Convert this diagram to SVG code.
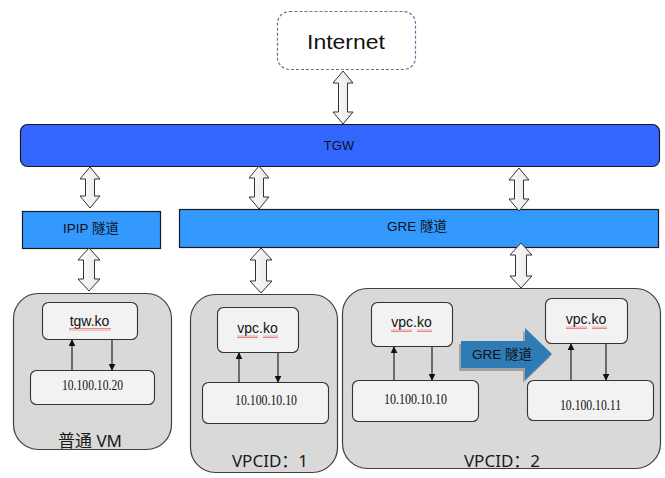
<svg xmlns="http://www.w3.org/2000/svg" width="665" height="478" viewBox="0 0 665 478">
<defs>
<style>
.cont{fill:#D9D9D9;stroke:#3F3F3F;stroke-width:1.2}
.inner{fill:#F2F2F2;stroke:#333;stroke-width:1.1}
.blue{fill:#3399FF;stroke:#1A1A1A;stroke-width:1.2}
.dbl{fill:url(#dg);stroke:#333;stroke-width:1}
.ln{stroke:#111;stroke-width:1.1;fill:none;marker-end:url(#ah)}
.sans{font-family:"Liberation Sans","Noto Sans CJK SC",sans-serif;fill:#111}
.ip{font-family:"Liberation Serif",serif;font-size:14px;fill:#111}
.lbl{font-family:"Noto Sans","Noto Sans CJK SC",sans-serif;font-size:17px;fill:#1A1A1A}
.mod{font-family:"Liberation Sans","Noto Sans CJK SC",sans-serif;font-size:14px;fill:#111}
</style>
<linearGradient id="dg" x1="0" y1="0" x2="1" y2="0">
<stop offset="0" stop-color="#FFFFFF"/>
<stop offset="1" stop-color="#E6E6E6"/>
</linearGradient>
<marker id="ah" viewBox="0 0 10 10" refX="9" refY="5" markerWidth="7" markerHeight="7" orient="auto" markerUnits="userSpaceOnUse">
<path d="M0,0 L10,5 L0,10 Z" fill="#111"/>
</marker>
<pattern id="wave" width="4" height="3" patternUnits="userSpaceOnUse">
<path d="M0,2.5 L1,0.5 L2,2.5 L3,0.5 L4,2.5" fill="none" stroke="#E04040" stroke-width="0.6"/>
</pattern>
</defs>
<rect width="665" height="478" fill="#FFFFFF"/>

<g id="internet">
<rect x="277.5" y="11.5" width="138" height="58" rx="12" fill="#FFFFFF" stroke="#5B7A99" stroke-width="1.2" stroke-dasharray="3,2"/>
<text class="sans" x="346" y="49" font-size="21" text-anchor="middle" textLength="78" lengthAdjust="spacingAndGlyphs">Internet</text>
</g>

<g id="tgw">
<rect x="20.5" y="124.5" width="639" height="42" rx="7" fill="#3366FF" stroke="#1A1A1A" stroke-width="1.2"/>
<text class="sans" x="339" y="150" font-size="13" text-anchor="middle">TGW</text>
</g>

<g id="ipip">
<rect class="blue" x="22.5" y="211.5" width="138" height="37"/>
<text class="sans" x="91" y="233" font-size="13.5" text-anchor="middle">IPIP 隧道</text>
</g>

<g id="gre">
<rect class="blue" x="179.5" y="209.5" width="479" height="38"/>
<text class="sans" x="417" y="231" font-size="13.5" text-anchor="middle">GRE 隧道</text>
</g>

<g id="vm">
<rect class="cont" x="13.5" y="293.5" width="158" height="156" rx="25"/>
<rect class="inner" x="42.5" y="302.5" width="95" height="37" rx="6"/>
<text class="mod" x="89.5" y="326" text-anchor="middle">tgw.ko</text>
<rect x="69" y="328" width="42" height="3" fill="url(#wave)"/>
<rect class="inner" x="30.5" y="370.5" width="124" height="34" rx="6"/>
<text class="ip" x="92.5" y="390" text-anchor="middle" textLength="61" lengthAdjust="spacingAndGlyphs">10.100.10.20</text>
<text class="lbl" x="90" y="447" text-anchor="middle">普通 VM</text>
</g>

<g id="vpc1">
<rect class="cont" x="190.5" y="294.5" width="147" height="178" rx="25"/>
<rect class="inner" x="217.5" y="307.5" width="81" height="45" rx="6"/>
<text class="mod" x="257.5" y="333" text-anchor="middle">vpc.ko</text>
<rect x="237" y="335" width="21" height="3" fill="url(#wave)"/>
<rect x="263" y="335" width="15" height="3" fill="url(#wave)"/>
<rect class="inner" x="202.5" y="382.5" width="126" height="41" rx="6"/>
<text class="ip" x="266" y="405" text-anchor="middle" textLength="62" lengthAdjust="spacingAndGlyphs">10.100.10.10</text>
<text class="lbl" x="270" y="467" text-anchor="middle">VPCID：1</text>
</g>

<g id="vpc2">
<rect class="cont" x="342.5" y="288.5" width="318" height="180" rx="25"/>
<rect class="inner" x="371.5" y="302.5" width="81" height="44" rx="6"/>
<text class="mod" x="411.5" y="327" text-anchor="middle">vpc.ko</text>
<rect x="391" y="329" width="21" height="3" fill="url(#wave)"/>
<rect x="417" y="329" width="15" height="3" fill="url(#wave)"/>
<rect class="inner" x="352.5" y="380.5" width="126" height="41" rx="6"/>
<text class="ip" x="415.5" y="404" text-anchor="middle" textLength="63" lengthAdjust="spacingAndGlyphs">10.100.10.10</text>
<rect class="inner" x="545.5" y="298.5" width="82" height="45" rx="6"/>
<text class="mod" x="586" y="324" text-anchor="middle">vpc.ko</text>
<rect x="566" y="326" width="21" height="3" fill="url(#wave)"/>
<rect x="592" y="326" width="15" height="3" fill="url(#wave)"/>
<rect class="inner" x="527.5" y="380.5" width="126" height="40" rx="6"/>
<text class="ip" x="590.5" y="410" text-anchor="middle" textLength="61" lengthAdjust="spacingAndGlyphs">10.100.10.11</text>
<text class="lbl" x="502" y="467" text-anchor="middle">VPCID：2</text>
</g>

<g id="gre-arrow">
<path d="M459,344 L523,344 L523,331 L550,357 L523,383 L523,371 L459,371 Z" fill="#000" opacity="0.25"/>
<path d="M461,341 L525,341 L525,328 L552,354 L525,380 L525,368 L461,368 Z" fill="#2E7BB5"/>
<text class="sans" x="472" y="359" font-size="13.5">GRE 隧道</text>
</g>

<g id="connectors">
<path class="dbl" d="M343,71 L353,83 L347.5,83 L347.5,112 L353,112 L343,124 L333,112 L338.5,112 L338.5,83 L333,83 Z"/>
<path class="dbl" d="M90,167 L100,179 L94.5,179 L94.5,196 L100,196 L90,208 L80,196 L85.5,196 L85.5,179 L80,179 Z"/>
<path class="dbl" d="M259,166 L269,178 L263.5,178 L263.5,197 L269,197 L259,209 L249,197 L254.5,197 L254.5,178 L249,178 Z"/>
<path class="dbl" d="M519,168 L529,180 L523.5,180 L523.5,199 L529,199 L519,211 L509,199 L514.5,199 L514.5,180 L509,180 Z"/>
<path class="dbl" d="M89,248 L100,260 L94.5,260 L94.5,279 L100,279 L89,291 L78,279 L83.5,279 L83.5,260 L78,260 Z"/>
<path class="dbl" d="M261,248 L272,260 L266.5,260 L266.5,281 L272,281 L261,293 L250,281 L255.5,281 L255.5,260 L250,260 Z"/>
<path class="dbl" d="M521,243 L532,255 L526.5,255 L526.5,276 L532,276 L521,288 L510,276 L515.5,276 L515.5,255 L510,255 Z"/>
<line class="ln" x1="72" y1="370" x2="72" y2="340"/>
<line class="ln" x1="112" y1="340" x2="112" y2="370"/>
<line class="ln" x1="239" y1="382" x2="239" y2="353"/>
<line class="ln" x1="278" y1="353" x2="278" y2="382"/>
<line class="ln" x1="394" y1="380" x2="394" y2="347"/>
<line class="ln" x1="432" y1="347" x2="432" y2="380"/>
<line class="ln" x1="571" y1="380" x2="571" y2="344"/>
<line class="ln" x1="606" y1="344" x2="606" y2="380"/>
</g>
</svg>
